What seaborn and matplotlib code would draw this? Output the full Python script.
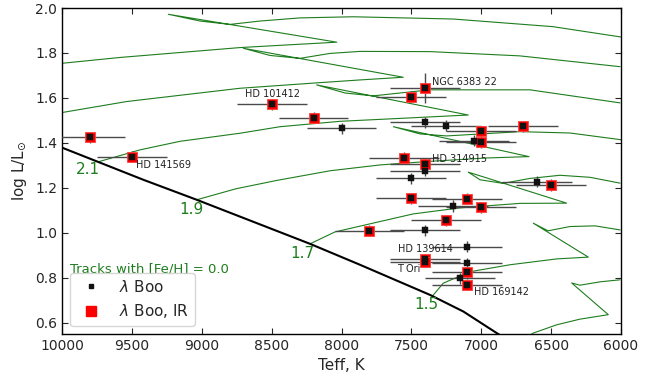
import numpy as np
import matplotlib
matplotlib.use("Agg")
import matplotlib.pyplot as plt
import seaborn as sns
from matplotlib.lines import Line2D

# ---------------- data ----------------
star_teff = [9800, 9500, 8500, 8200, 8000, 7400, 7500, 7400, 7250, 7000, 6700,
             7050, 7000, 7550, 7400, 7400, 7500, 6600, 6500, 7500, 7100, 7200,
             7000, 7250, 7800, 7400, 7100, 7400, 7400, 7100, 7100, 7150, 7100]
star_logl = [1.425, 1.338, 1.572, 1.512, 1.465, 1.643, 1.606, 1.492, 1.476, 1.452, 1.474,
             1.410, 1.404, 1.335, 1.304, 1.276, 1.243, 1.227, 1.213, 1.154, 1.151, 1.119,
             1.114, 1.055, 1.009, 1.012, 0.939, 0.883, 0.871, 0.865, 0.824, 0.797, 0.770]
star_ir = [1, 1, 1, 1, 0, 1, 1, 0, 0, 1, 1,
           0, 1, 1, 1, 0, 0, 0, 1, 1, 1, 0,
           1, 1, 1, 0, 0, 1, 1, 0, 1, 0, 1]
star_teff_err = [250] * 33
star_logl_err = [0.025, 0.025, 0.025, 0.025, 0.025, 0.067, 0.025, 0.025, 0.025, 0.025, 0.025,
                 0.025, 0.025, 0.025, 0.025, 0.025, 0.025, 0.025, 0.025, 0.025, 0.025, 0.025,
                 0.025, 0.025, 0.025, 0.025, 0.025, 0.025, 0.025, 0.025, 0.025, 0.025, 0.025]

star_names = ["HD 101412", "HD 141569", "NGC 6383 22", "HD 314915",
              "HD 139614", "T Ori", "HD 169142"]
name_teff = [8497, 9470, 7355, 7355, 7399, 7522, 7052]
name_logl = [1.617, 1.302, 1.670, 1.330, 0.929, 0.839, 0.739]
name_ha = ["center", "left", "left", "left", "center", "center", "left"]

zams_teff = [10100, 10000, 9418, 9036, 8225, 7868, 7367, 7128, 6889, 6800]
zams_logl = [1.405, 1.379, 1.236, 1.147, 0.951, 0.858, 0.724, 0.650, 0.554, 0.52]

track_25_teff = [10200, 10000, 9585, 8726, 8034, 9239, 9013, 8798, 8583, 8297, 7918, 7202, 6487, 6000]
track_25_logl = [1.742, 1.754, 1.780, 1.824, 1.848, 1.972, 1.942, 1.927, 1.942, 1.956, 1.961, 1.951, 1.917, 1.871]

track_23_teff = [10200, 10000, 9537, 8726, 8178, 7868, 7558, 8703, 8512, 8297, 8082, 7868, 7367, 6723, 6007]
track_23_logl = [1.525, 1.535, 1.584, 1.643, 1.667, 1.680, 1.692, 1.821, 1.789, 1.776, 1.798, 1.807, 1.806, 1.787, 1.739]

track_21_teff = [9740, 9442, 9156, 8726, 8440, 8011, 7581, 7093, 8178, 7975, 7775, 7581, 7367, 6651, 6007]
track_21_logl = [1.316, 1.369, 1.407, 1.443, 1.472, 1.496, 1.509, 1.524, 1.658, 1.622, 1.609, 1.622, 1.636, 1.636, 1.578]

track_19_teff = [9036, 8755, 8464, 8082, 7724, 7367, 6961, 6658, 7629, 7438, 7247, 6723, 6365, 5986]
track_19_logl = [1.147, 1.196, 1.233, 1.276, 1.302, 1.318, 1.333, 1.339, 1.472, 1.440, 1.431, 1.450, 1.444, 1.413]

track_17_teff = [8225, 8047, 7796, 7488, 7152, 6723, 6389, 7093, 7009, 6844, 6651, 6437, 6222, 6007]
track_17_logl = [0.951, 1.004, 1.040, 1.084, 1.111, 1.131, 1.132, 1.270, 1.236, 1.220, 1.242, 1.256, 1.247, 1.221]

track_15_teff = [7349, 7272, 7081, 6794, 6460, 6234, 6628, 6522, 6365, 6186, 6007]
track_15_logl = [0.719, 0.776, 0.827, 0.858, 0.884, 0.892, 1.043, 1.009, 1.028, 1.031, 1.013]

track_13_teff = [6687, 6628, 6460, 6294, 6091, 6353, 6294, 6151, 6007]
track_13_logl = [0.531, 0.554, 0.591, 0.616, 0.636, 0.777, 0.767, 0.782, 0.791]

mass_labels = ["2.1", "1.9", "1.7", "1.5"]
mass_label_teff = [9814, 9077, 8281, 7390]
mass_label_logl = [1.280, 1.105, 0.910, 0.680]

# ---------------- style ----------------
sns.set_style("ticks")
plt.rcParams["font.family"] = ["DejaVu Sans"]
plt.rcParams["mathtext.fontset"] = "dejavusans"
plt.rcParams["xtick.direction"] = "in"
plt.rcParams["ytick.direction"] = "in"
plt.rcParams["xtick.top"] = True
plt.rcParams["ytick.right"] = True
plt.rcParams["axes.edgecolor"] = "black"
plt.rcParams["axes.linewidth"] = 1.0

fig = plt.figure(figsize=(6.59, 3.76), dpi=100)
ax = fig.add_axes([62 / 659, 1 - 334 / 376, 559 / 659, 326 / 376])

green = "#1e7d1e"
tracks = [(track_25_teff, track_25_logl), (track_23_teff, track_23_logl),
          (track_21_teff, track_21_logl), (track_19_teff, track_19_logl),
          (track_17_teff, track_17_logl), (track_15_teff, track_15_logl),
          (track_13_teff, track_13_logl)]
for tt, ll in tracks:
    sns.lineplot(x=tt, y=ll, sort=False, estimator=None, ax=ax,
                 color=green, lw=0.8, zorder=1)

sns.lineplot(x=zams_teff, y=zams_logl, sort=False, estimator=None, ax=ax,
             color="black", lw=1.5, zorder=2)

for lab, t, l in zip(mass_labels, mass_label_teff, mass_label_logl):
    ax.text(t, l, lab, color=green, fontsize=11, ha="center", va="center", zorder=5)

ax.errorbar(star_teff, star_logl, xerr=star_teff_err, yerr=star_logl_err,
            fmt="none", ecolor="#4a4a4a", elinewidth=1.0, capsize=0, zorder=3)

ir_t = [t for t, f in zip(star_teff, star_ir) if f]
ir_l = [l for l, f in zip(star_logl, star_ir) if f]
sns.scatterplot(x=ir_t, y=ir_l, marker="s", s=60, color="red",
                edgecolor="#ff4040", linewidth=0.6, ax=ax, zorder=4)
sns.scatterplot(x=star_teff, y=star_logl, marker="s", s=20, color="#111111",
                edgecolor="#111111", linewidth=0.3, ax=ax, zorder=5)

for name, t, l, ha in zip(star_names, name_teff, name_logl, name_ha):
    ax.text(t, l, name, fontsize=7, ha=ha, va="center", color="#222222", zorder=6)

ax.text(9943, 0.839, "Tracks with [Fe/H] = 0.0", color=green, fontsize=9.5,
        ha="left", va="center")

handles = [Line2D([], [], marker="s", ls="none", color="#111111", markersize=3.5),
           Line2D([], [], marker="s", ls="none", markerfacecolor="red",
                  markeredgecolor="red", markersize=6.5)]
ax.legend(handles, [r"$\lambda$ Boo", r"$\lambda$ Boo, IR"], loc="lower left",
          fontsize=11, frameon=True, edgecolor="#cccccc", fancybox=True)

ax.set_xlim(10000, 6000)
ax.set_ylim(0.55, 2.0)
ax.set_xticks(np.arange(6000, 10001, 500))
ax.set_xticklabels([str(v) for v in np.arange(6000, 10001, 500)])
yt = [0.6, 0.8, 1.0, 1.2, 1.4, 1.6, 1.8, 2.0]
ax.set_yticks(yt)
ax.set_yticklabels(["%.1f" % v for v in yt])
ax.tick_params(axis="both", which="major", length=4, width=0.8, labelsize=10,
               direction="in", top=True, right=True)
ax.set_xlabel("Teff, K", fontsize=11)
ax.set_ylabel(r"log L/L$_{\odot}$", fontsize=11)

fig.savefig("out.png", dpi=100)
